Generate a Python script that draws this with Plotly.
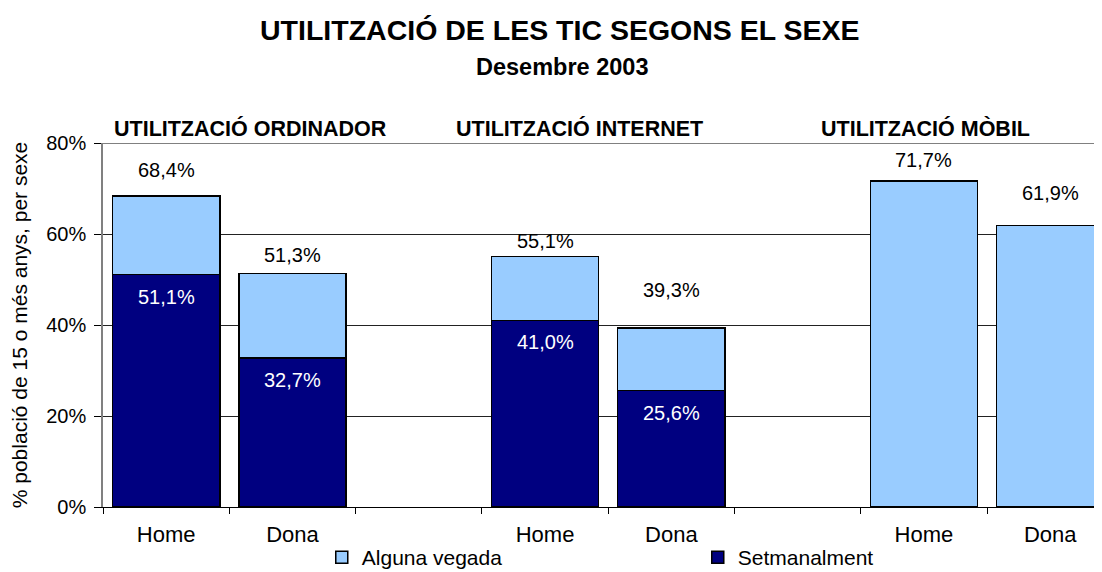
import plotly.graph_objects as go

# ---- data ----
categories = ["Home", "Dona", "", "Home", "Dona", "", "Home", "Dona"]
setmanalment = [51.1, 32.7, None, 41.0, 25.6, None, None, None]
alguna_total = [68.4, 51.3, None, 55.1, 39.3, None, 71.7, 61.9]
groups = ["UTILITZACIÓ ORDINADOR", "UTILITZACIÓ INTERNET", "UTILITZACIÓ MÒBIL"]
y_ticks = [0, 20, 40, 60, 80]

# label placement styling (pixels above bar top)
total_label_offset = [26, 19, None, 15, 38, None, 21, 32]
group_title_x = [0.664, 3.27, 6.016]

FONT = "Liberation Sans, Arial, sans-serif"
LIGHT = "#99ccff"
DARK = "#000080"

xs = list(range(len(categories)))
alguna_part = [
    (t - (s or 0)) if t is not None else None
    for t, s in zip(alguna_total, setmanalment)
]

def fmt(v):
    return f"{v:.1f}".replace(".", ",") + "%"

fig = go.Figure()
fig.add_trace(go.Bar(
    x=xs, y=setmanalment, name="Setmanalment", width=0.85,
    marker=dict(color=DARK, line=dict(color="black", width=1.5)),
    hoverinfo="skip",
))
fig.add_trace(go.Bar(
    x=xs, y=alguna_part, name="Alguna vegada", width=0.85,
    marker=dict(color=LIGHT, line=dict(color="black", width=1.5)),
    hoverinfo="skip",
))

annotations = []
for x, t, off in zip(xs, alguna_total, total_label_offset):
    if t is None:
        continue
    annotations.append(dict(x=x, y=t, xref="x", yref="y", text=fmt(t),
                            showarrow=False, yanchor="middle", yshift=off,
                            font=dict(family=FONT, size=20, color="black")))
for x, s in zip(xs, setmanalment):
    if s is None:
        continue
    annotations.append(dict(x=x, y=s, xref="x", yref="y", text=fmt(s),
                            showarrow=False, yanchor="middle", yshift=-22,
                            font=dict(family=FONT, size=20, color="white")))
for gx, g in zip(group_title_x, groups):
    annotations.append(dict(x=gx, y=80, xref="x", yref="y", text=f"<b>{g}</b>",
                            showarrow=False, yanchor="middle", yshift=15,
                            font=dict(family=FONT, size=21.5, color="black")))
annotations.append(dict(x=0.4575, y=1.310, xref="paper", yref="paper",
                        xanchor="center", yanchor="middle",
                        text="<b>UTILITZACIÓ DE LES TIC SEGONS EL SEXE</b>", showarrow=False,
                        font=dict(family=FONT, size=28.5, color="black")))
annotations.append(dict(x=0.459, y=1.209, xref="paper", yref="paper",
                        xanchor="center", yanchor="middle",
                        text="<b>Desembre 2003</b>", showarrow=False,
                        font=dict(family=FONT, size=23.5, color="black")))

# the page body adds an 8px margin, so the figure is 8px smaller than the window
fig.update_layout(
    width=1094, height=564,
    margin=dict(l=95, r=0, t=135, b=65, autoexpand=False),
    paper_bgcolor="white", plot_bgcolor="white",
    barmode="stack",
    annotations=annotations,
    showlegend=True,
    legend=dict(orientation="h", x=0.219, xanchor="left", y=-0.139, yanchor="middle",
                traceorder="reversed",
                font=dict(family=FONT, size=21, color="black"),
                entrywidth=331, entrywidthmode="pixels",
                bgcolor="rgba(0,0,0,0)"),
    xaxis=dict(
        range=[-0.5, 7.41], automargin=False,
        tickmode="array", tickvals=xs, ticktext=categories,
        ticks="", showgrid=False, zeroline=False,
        showline=True, linecolor="black", linewidth=1,
        tickfont=dict(family=FONT, size=22, color="black"),
        ticklabelstandoff=8,
        minor=dict(tickmode="array", tickvals=[x - 0.5 for x in xs] + [len(xs) - 0.5],
                   ticks="outside", ticklen=6, tickcolor="black", tickwidth=1,
                   showgrid=False),
    ),
    yaxis=dict(
        range=[0, 80], tickmode="array", tickvals=y_ticks, automargin=False,
        ticktext=[f"{v}%" for v in y_ticks],
        ticks="outside", ticklen=7, tickcolor="black", tickwidth=1,
        ticklabelstandoff=4,
        showgrid=True, gridcolor="#222222", gridwidth=1,
        zeroline=False, showline=True, linecolor="#808080", linewidth=1.5,
        tickfont=dict(family=FONT, size=20, color="black"),
        title=dict(text="% població de 15 o més anys, per sexe",
                   font=dict(family=FONT, size=21, color="black"), standoff=13),
    ),
    shapes=[dict(type="line", xref="paper", yref="y", x0=0, x1=1, y0=80, y1=80,
                 line=dict(color="#808080", width=2))],
)

fig.write_html("out.html")
